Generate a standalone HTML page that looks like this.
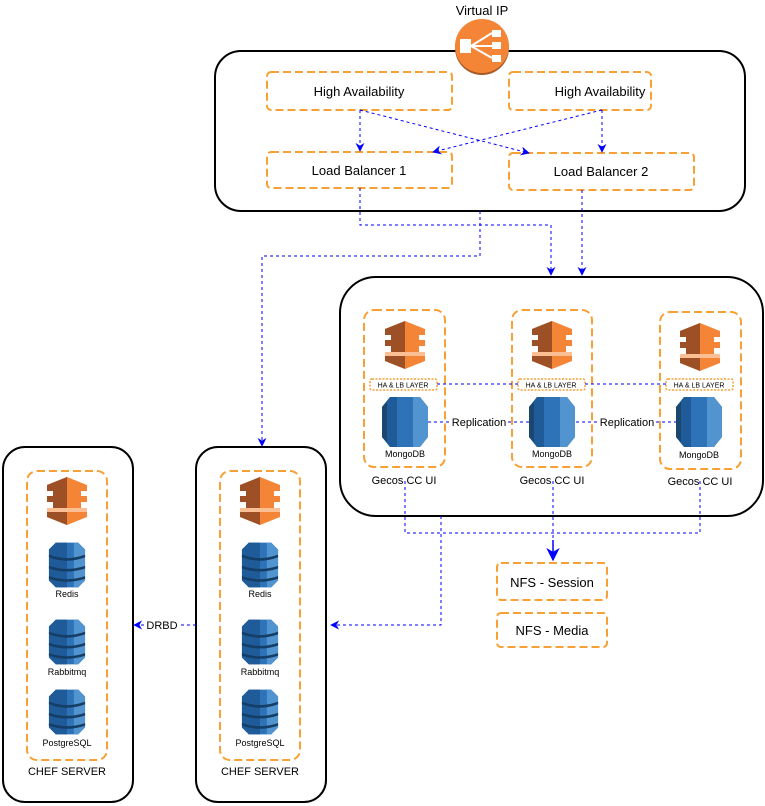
<!DOCTYPE html>
<html><head><meta charset="utf-8"><style>
html,body{margin:0;padding:0;background:#fff;}
svg{display:block;font-family:"Liberation Sans",Helvetica,sans-serif;}
</style></head><body>
<svg width="765" height="806" viewBox="0 0 765 806" xmlns="http://www.w3.org/2000/svg">
<defs>
<marker id="ar" viewBox="0 0 10 10" refX="9" refY="5" markerWidth="9" markerHeight="9" orient="auto"><path d="M0,0 L10,5 L0,10 L3,5 z" fill="#0000ff"/></marker>
<g id="orng">
 <polygon points="0,-24 20,-16 20,-10 -20,-10 -20,-16" fill="#f58536"/>
 <polygon points="0,-24 -20,-16 -20,-10 0,-10" fill="#9d5025"/>
 <rect x="-14" y="-10" width="28" height="18" fill="#f58536"/>
 <rect x="-14" y="-10" width="14" height="18" fill="#9d5025"/>
 <rect x="-20" y="-5" width="40" height="6" fill="#f58536"/>
 <rect x="-20" y="-5" width="20" height="6" fill="#9d5025"/>
 <polygon points="-20,8 20,8 20,16 0,24 -20,16" fill="#f58536"/>
 <polygon points="-20,8 0,8 0,24 -20,16" fill="#9d5025"/>
 <rect x="-20" y="7" width="40" height="4" fill="#fbbf93"/>
</g>
<g id="mongo">
 <path d="M-15,-25 L15,-25 L23,-15 L23,15 L15,25 L-15,25 L-23,15 L-23,-15 Z" fill="#2e73b8"/>
 <path d="M-15,-25 L-8,-25 L-8,25 L-15,25 L-23,15 L-23,-15 Z" fill="#1f5b98"/>
 <path d="M-23,-15 L-18,-20 L-18,20 L-23,15 Z" fill="#1a4670"/>
 <path d="M8,-25 L15,-25 L23,-15 L23,15 L15,25 L8,25 Z" fill="#5294cf"/>
</g>
<g id="dbs0">
 <path d="M-13,-26 L13,-26 L21,-18 L21,18 L13,26 L-13,26 L-21,18 L-21,-18 Z" fill="#2e73b8"/>
 <path d="M-13,-26 L0,-26 L0,26 L-13,26 L-21,18 L-21,-18 Z" fill="#205b99"/>
 <path d="M8,-26 L13,-26 L21,-18 L21,18 L13,26 L8,26 Z" fill="#5294cf"/>
 <path d="M-21,-12 Q0,-4 21,-12 L21,-9 Q0,-1 -21,-9 Z" fill="#153e66"/>
 <path d="M-21,1 Q0,8 21,1 L21,4 Q0,11 -21,4 Z" fill="#153e66"/>
 <path d="M-21,13 Q0,20 21,13 L21,16 Q0,23 -21,16 Z" fill="#153e66"/>
</g>
<g id="dbs"><use href="#dbs0" transform="scale(0.86)"/></g>
</defs>

<g fill="none" stroke="#000" stroke-width="2">
 <rect x="215" y="51" width="530" height="160" rx="26"/>
 <rect x="340" y="277" width="423" height="239" rx="36"/>
 <rect x="3" y="447" width="130" height="355" rx="22"/>
 <rect x="196" y="447" width="130" height="355" rx="22"/>
</g>

<g fill="none" stroke="#f7a035" stroke-width="2" stroke-dasharray="8,4">
 <rect x="267" y="72" width="185" height="38" rx="4"/>
 <rect x="509" y="72" width="142" height="38" rx="4"/>
 <rect x="267" y="152" width="185" height="36" rx="4"/>
 <rect x="509" y="153" width="185" height="37" rx="4"/>
 <rect x="364" y="310" width="81" height="157" rx="10"/>
 <rect x="512" y="310" width="80" height="157" rx="10"/>
 <rect x="660" y="312" width="81" height="157" rx="10"/>
 <rect x="27" y="471" width="80" height="289" rx="10"/>
 <rect x="220" y="471" width="80" height="289" rx="10"/>
 <rect x="497" y="563" width="110" height="37" rx="4"/>
 <rect x="497" y="613" width="110" height="34" rx="4"/>
</g>
<g fill="#fff" stroke="#f7a035" stroke-width="1.5" stroke-dasharray="2,1.5">
 <rect x="370" y="379" width="67" height="11" rx="2"/>
 <rect x="518" y="379" width="67" height="11" rx="2"/>
 <rect x="666" y="379" width="67" height="11" rx="2"/>
</g>

<g fill="none" stroke="#0000ff" stroke-width="1" stroke-dasharray="3,3">
 <path d="M360,110 L360,151" marker-end="url(#ar)"/>
 <path d="M360,110 L529,153" marker-end="url(#ar)"/>
 <path d="M602,110 L433,152" marker-end="url(#ar)"/>
 <path d="M602,110 L602,152" marker-end="url(#ar)"/>
 <path d="M360,188 L360,225 L551,225 L551,275" marker-end="url(#ar)"/>
 <path d="M582,190 L582,275" marker-end="url(#ar)"/>
 <path d="M480,211 L480,256 L262,256 L262,446" marker-end="url(#ar)"/>
 <path d="M437,384 L518,384 M585,384 L666,384"/>
 <path d="M428,422 L450,422 M508,422 L530,422 M576,422 L598,422 M656,422 L678,422"/>
 <path d="M405,481 L405,533 L700,533 L700,481 M553,481 L553,540" />
 <path d="M441,516 L441,625 L331,625" marker-end="url(#ar)"/>
 <path d="M196,625 L180,625 M144,625 L134,625" marker-end="url(#ar)"/>
</g>
<path d="M553,540 L553,560" stroke="#0000ff" stroke-width="1.5" marker-end="url(#ar)"/>

<circle cx="482" cy="48" r="27" fill="#a65a25"/>
<circle cx="482" cy="46" r="27" fill="#f58536"/>
<g fill="#fff" stroke="#fff">
 <rect x="460" y="39" width="11" height="14" stroke="none"/>
 <rect x="492" y="30" width="9" height="7" stroke="none"/>
 <rect x="492" y="42" width="9" height="7" stroke="none"/>
 <rect x="492" y="55" width="9" height="7" stroke="none"/>
 <path d="M471,46 L492,33 M471,46 L492,46 M471,46 L492,58" stroke-width="2" fill="none"/>
</g>

<use href="#orng" x="405" y="345"/>
<use href="#orng" x="552" y="345"/>
<use href="#orng" x="700" y="347"/>
<use href="#orng" x="67" y="501"/>
<use href="#orng" x="260" y="501"/>
<use href="#mongo" x="405" y="422"/>
<use href="#mongo" x="552" y="422"/>
<use href="#mongo" x="699" y="422"/>
<use href="#dbs" x="67" y="565"/>
<use href="#dbs" x="67" y="642"/>
<use href="#dbs" x="67" y="712"/>
<use href="#dbs" x="260" y="565"/>
<use href="#dbs" x="260" y="642"/>
<use href="#dbs" x="260" y="712"/>

<g font-size="13" fill="#000" text-anchor="middle">
 <text x="482" y="15">Virtual IP</text>
 <text x="359" y="96">High Availability</text>
 <text x="600" y="96">High Availability</text>
 <text x="359" y="175">Load Balancer 1</text>
 <text x="601" y="176">Load Balancer 2</text>
 <text x="552" y="587">NFS - Session</text>
 <text x="552" y="635">NFS - Media</text>
</g>
<g font-size="11" fill="#000" text-anchor="middle">
 <text x="404" y="484">Gecos CC UI</text>
 <text x="552" y="484">Gecos CC UI</text>
 <text x="700" y="485">Gecos CC UI</text>
 <text x="479" y="426">Replication</text>
 <text x="627" y="426">Replication</text>
 <text x="162" y="629">DRBD</text>
 <text x="67" y="775">CHEF SERVER</text>
 <text x="260" y="775">CHEF SERVER</text>
</g>
<g font-size="9" fill="#000" text-anchor="middle">
 <text x="405" y="457">MongoDB</text>
 <text x="552" y="457">MongoDB</text>
 <text x="699" y="458">MongoDB</text>
 <text x="67" y="597">Redis</text>
 <text x="67" y="675">Rabbitmq</text>
 <text x="67" y="746">PostgreSQL</text>
 <text x="260" y="597">Redis</text>
 <text x="260" y="675">Rabbitmq</text>
 <text x="260" y="746">PostgreSQL</text>
</g>
<g font-size="7" fill="#000" text-anchor="middle">
 <text x="403" y="387.5">HA &amp; LB LAYER</text>
 <text x="551" y="387.5">HA &amp; LB LAYER</text>
 <text x="699" y="387.5">HA &amp; LB LAYER</text>
</g>
</svg>
</body></html>
